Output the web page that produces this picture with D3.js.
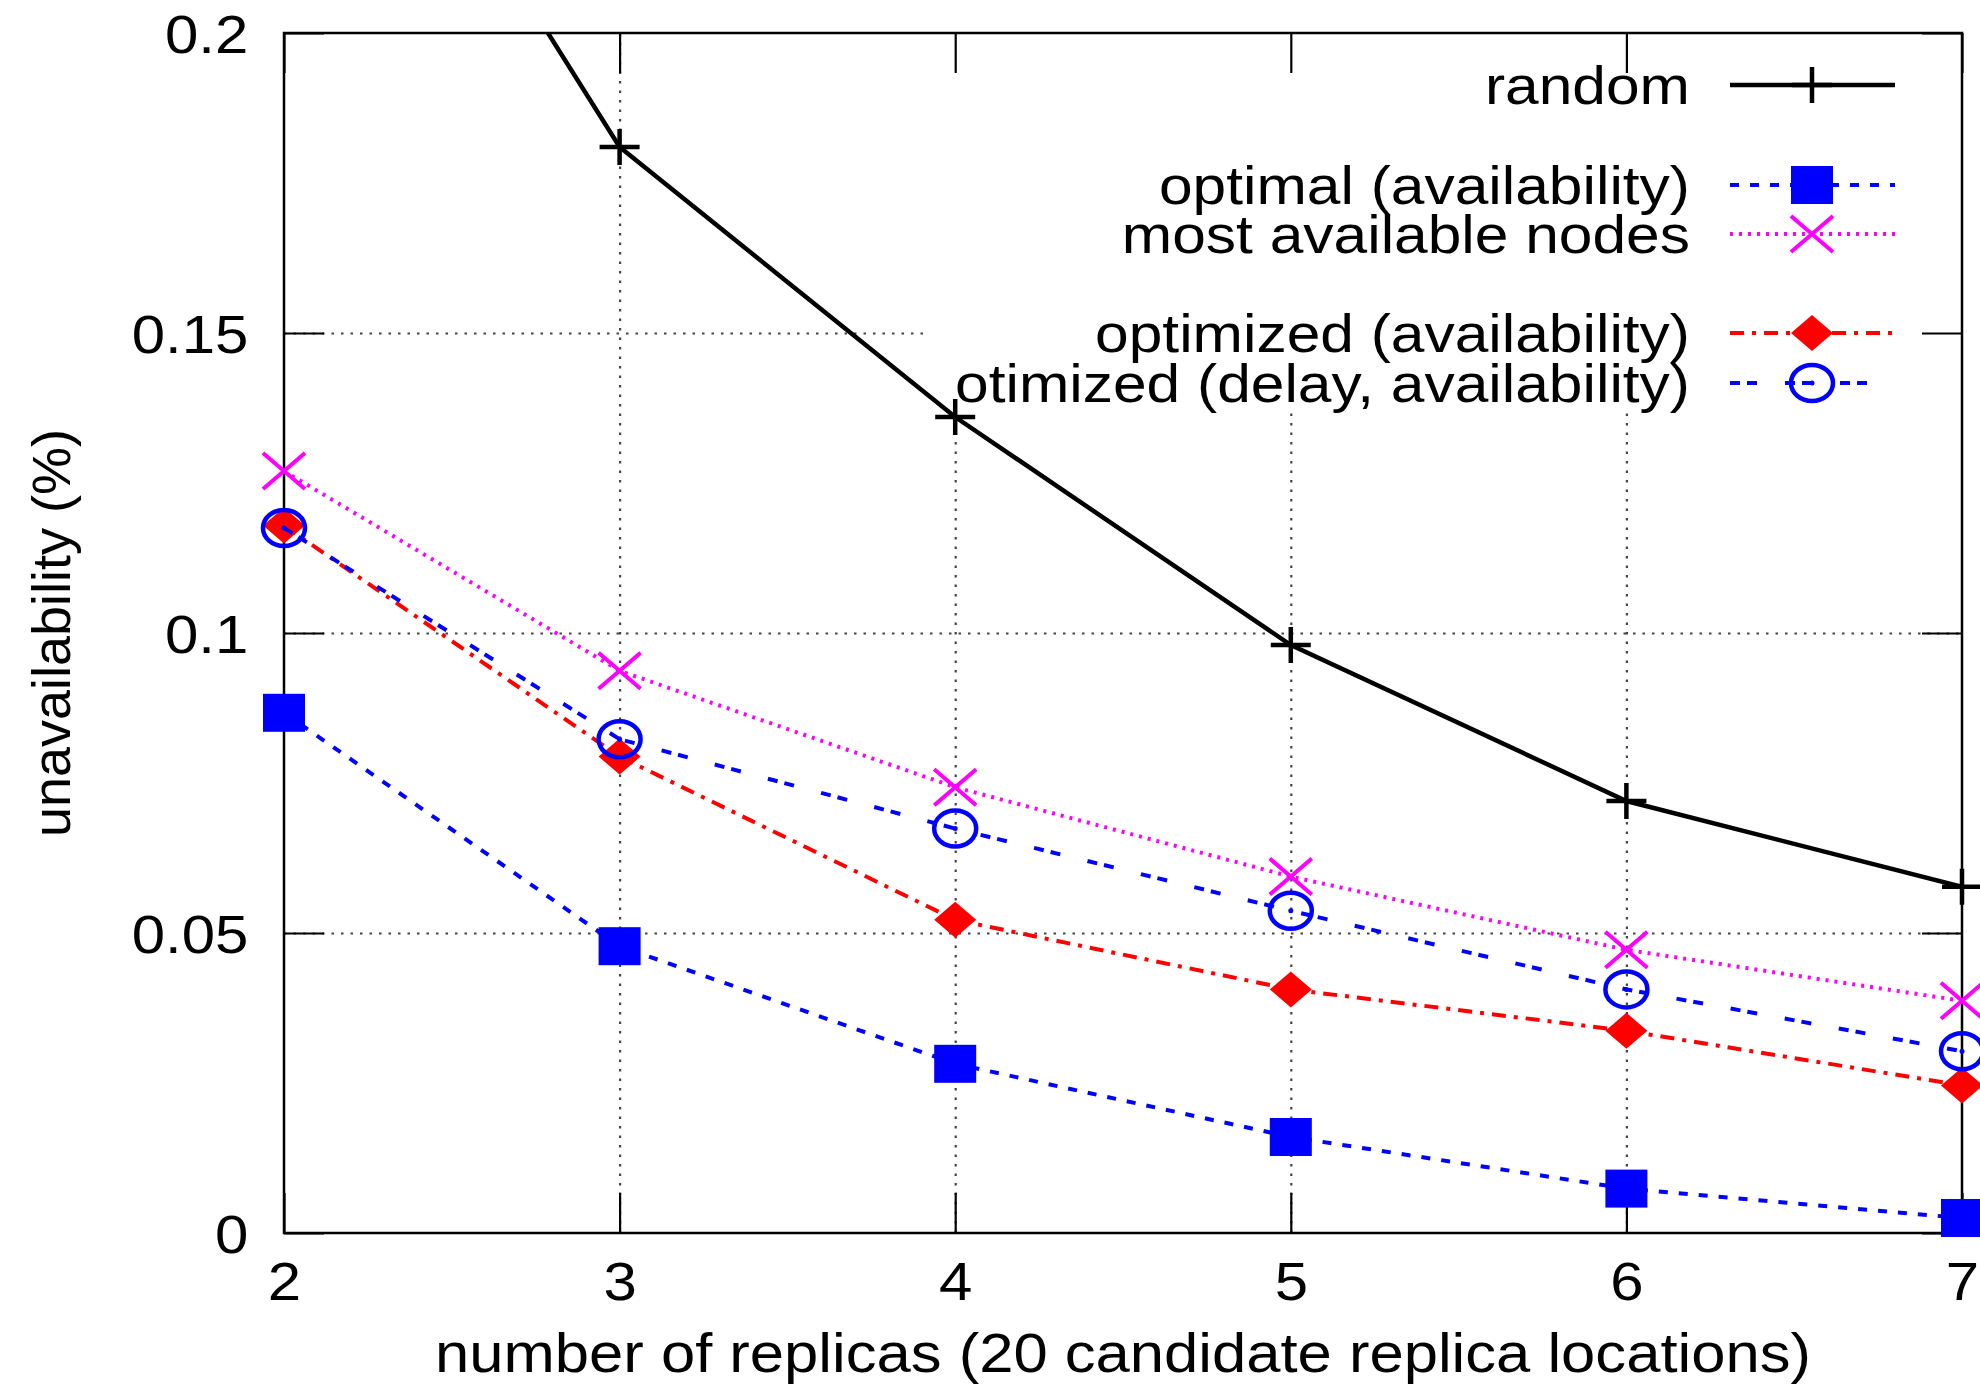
<!DOCTYPE html>
<html>
<head>
<meta charset="utf-8">
<script src="https://cdn.jsdelivr.net/npm/d3@7"></script>
<style>
  body { margin: 0; background: #fff; }
  text { font-family: "Liberation Sans", Arial, Helvetica, sans-serif; fill: #000; }
</style>
</head>
<body>
<svg id="chart" width="1980" height="1385"></svg>
<script>
// data
var replicas = [2, 3, 4, 5, 6, 7];
var randomVals = [0.27, 0.181, 0.136, 0.098, 0.072, 0.0577];
var optimalVals = [0.0867, 0.0478, 0.0282, 0.016, 0.0074, 0.0025];
var mostAvailVals = [0.127, 0.0937, 0.0743, 0.0594, 0.0472, 0.0387];
var optimizedVals = [0.1179, 0.0794, 0.0522, 0.0406, 0.0337, 0.0246];
var delayVals = [0.1175, 0.0823, 0.0674, 0.0537, 0.0406, 0.0303];

var xTicks = [2, 3, 4, 5, 6, 7];
var yTicks = [0, 0.05, 0.1, 0.15, 0.2];
var yTickLabels = ["0", "0.05", "0.1", "0.15", "0.2"];

var seriesNames = ["random", "optimal (availability)", "most available nodes",
                   "optimized (availability)", "otimized (delay, availability)"];

var series = [
    { name: seriesNames[0], vals: randomVals, color: "#000000", dash: null, marker: "plus", width: 4.5, legendY: 85 },
    { name: seriesNames[1], vals: optimalVals, color: "#0000ff", dash: "9,11", marker: "square", width: 4, legendY: 185 },
    { name: seriesNames[2], vals: mostAvailVals, color: "#ff00ff", dash: "3,6", marker: "cross", width: 4, legendY: 234 },
    { name: seriesNames[3], vals: optimizedVals, color: "#ff0000", dash: "14,8,4,8", marker: "diamond", width: 4, legendY: 333 },
    { name: seriesNames[4], vals: delayVals, color: "#0000ff", dash: "10,7,10,28", marker: "circle", width: 4, legendY: 383 }
];

var svg = d3.select("#chart");
var plotLeft = 284, plotRight = 1962, plotTop = 33, plotBottom = 1233;
var stretch = 1.12; // text in the source is a bit wider than tall

var x = d3.scaleLinear().domain([2, 7]).range([plotLeft, plotRight]);
var y = d3.scaleLinear().domain([0, 0.2]).range([plotBottom, plotTop]);

svg.append("clipPath").attr("id", "plotclip")
    .append("rect").attr("x", plotLeft).attr("y", plotTop)
    .attr("width", plotRight - plotLeft).attr("height", plotBottom - plotTop);

// grid lines
var gx = svg.append("g").attr("transform", "translate(0," + plotBottom + ")")
    .call(d3.axisBottom(x).tickValues([3, 4, 5, 6]).tickSize(-(plotBottom - plotTop)).tickFormat(""));
var gy = svg.append("g").attr("transform", "translate(" + plotLeft + ",0)")
    .call(d3.axisLeft(y).tickValues([0.05, 0.1, 0.15]).tickSize(-(plotRight - plotLeft)).tickFormat(""));
[gx, gy].forEach(function (g) {
    g.select(".domain").remove();
    g.selectAll("line").attr("stroke", "#444").attr("stroke-width", 2.2).attr("stroke-dasharray", "2.5,7");
});

// key is opaque: hides grid behind it
svg.append("rect").attr("x", 928).attr("y", plotTop + 1).attr("width", plotRight - 928 - 1).attr("height", 410 - plotTop)
    .attr("fill", "#fff");

// axes with inward ticks on all sides
var xAxis = svg.append("g").attr("transform", "translate(0," + plotBottom + ")")
    .call(d3.axisBottom(x).tickValues(xTicks).tickSizeInner(-40).tickSizeOuter(0).tickPadding(29).tickFormat(d3.format("d")));
var yAxis = svg.append("g").attr("transform", "translate(" + plotLeft + ",0)")
    .call(d3.axisLeft(y).tickValues(yTicks).tickSizeInner(-40).tickSizeOuter(0).tickPadding(36 / stretch)
        .tickFormat(function (d, i) { return yTickLabels[i]; }));
var xTop = svg.append("g").attr("transform", "translate(0," + plotTop + ")")
    .call(d3.axisTop(x).tickValues(xTicks).tickSizeInner(-40).tickSizeOuter(0).tickFormat(""));
var yRight = svg.append("g").attr("transform", "translate(" + plotRight + ",0)")
    .call(d3.axisRight(y).tickValues(yTicks).tickSizeInner(-40).tickSizeOuter(0).tickFormat(""));

[xAxis, yAxis, xTop, yRight].forEach(function (g) {
    g.select(".domain").remove();
    g.selectAll("line").attr("stroke", "#000").attr("stroke-width", 2.2);
    g.attr("font-size", 54).attr("font-family", null);
    g.selectAll("text").attr("fill", "#000").attr("transform", "scale(" + (stretch - 0.01) + ",1)");
});
yAxis.selectAll("text").attr("dy", "0.36em");

svg.append("rect").attr("x", plotLeft).attr("y", plotTop).attr("width", plotRight - plotLeft).attr("height", plotBottom - plotTop)
    .attr("fill", "none").attr("stroke", "#000").attr("stroke-width", 2.5);

// axis titles
svg.append("text")
    .attr("transform", "translate(70," + ((plotTop + plotBottom) / 2) + ") rotate(-90)")
    .attr("text-anchor", "middle").attr("font-size", 54)
    .text("unavailability (%)");

svg.append("text")
    .attr("x", (plotLeft + plotRight) / 2).attr("y", 1372)
    .attr("text-anchor", "middle").attr("font-size", 55)
    .attr("textLength", 1376).attr("lengthAdjust", "spacingAndGlyphs")
    .text("number of replicas (20 candidate replica locations)");

// markers
function drawMarker(g, type, cx, cy, color) {
    if (type == "plus") {
        g.append("path").attr("d", "M" + (cx - 20) + "," + cy + "H" + (cx + 20) + "M" + cx + "," + (cy - 18) + "V" + (cy + 18))
            .attr("stroke", color).attr("stroke-width", 4.5).attr("fill", "none");
    } else if (type == "square") {
        g.append("rect").attr("x", cx - 21).attr("y", cy - 19).attr("width", 42).attr("height", 38).attr("fill", color);
    } else if (type == "cross") {
        g.append("path").attr("d", "M" + (cx - 21) + "," + (cy - 18) + "L" + (cx + 21) + "," + (cy + 18) +
            "M" + (cx - 21) + "," + (cy + 18) + "L" + (cx + 21) + "," + (cy - 18))
            .attr("stroke", color).attr("stroke-width", 4).attr("fill", "none");
    } else if (type == "diamond") {
        g.append("path").attr("d", "M" + (cx - 21) + "," + cy + "L" + cx + "," + (cy - 18) + "L" + (cx + 21) + "," + cy +
            "L" + cx + "," + (cy + 18) + "Z").attr("fill", color);
    } else if (type == "circle") {
        g.append("ellipse").attr("cx", cx).attr("cy", cy).attr("rx", 21).attr("ry", 18)
            .attr("fill", "none").attr("stroke", color).attr("stroke-width", 4.5);
        g.append("circle").attr("cx", cx).attr("cy", cy).attr("r", 2.5).attr("fill", color);
    }
}

var line = d3.line().x(function (d) { return x(d.x); }).y(function (d) { return y(d.y); });

var plot = svg.append("g");
series.forEach(function (s) {
    var pts = replicas.map(function (r, i) { return { x: r, y: s.vals[i] }; });
    plot.append("path").datum(pts)
        .attr("d", line).attr("clip-path", "url(#plotclip)")
        .attr("fill", "none").attr("stroke", s.color).attr("stroke-width", s.width)
        .attr("stroke-dasharray", s.dash);
    var mg = plot.append("g");
    pts.forEach(function (p) {
        if (p.y <= 0.2) drawMarker(mg, s.marker, x(p.x), y(p.y), s.color);
    });
});

// legend
var legend = svg.append("g");
series.forEach(function (s) {
    legend.append("text")
        .attr("transform", "translate(1690," + s.legendY + ") scale(" + stretch + ",1)")
        .attr("dy", "0.36em").attr("text-anchor", "end").attr("font-size", 54)
        .text(s.name);
    legend.append("line").attr("x1", 1730).attr("x2", 1895).attr("y1", s.legendY).attr("y2", s.legendY)
        .attr("stroke", s.color).attr("stroke-width", s.width).attr("stroke-dasharray", s.dash);
    drawMarker(legend, s.marker, 1812, s.legendY, s.color);
});
</script>
</body>
</html>
